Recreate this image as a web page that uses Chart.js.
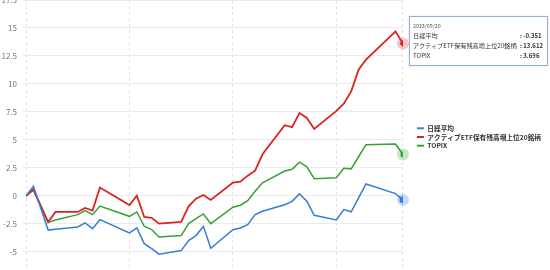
<!DOCTYPE html>
<html>
<head>
<meta charset="utf-8">
<script src="https://cdn.jsdelivr.net/npm/chart.js@4"></script>
<style>
html,body{margin:0;padding:0;width:550px;height:270px;overflow:hidden;background:#fff;}
#wrap{position:absolute;left:0;top:-20px;width:550px;height:304px;}
#tip{position:absolute;left:409px;top:16px;width:139px;height:50px;box-sizing:border-box;border:1px solid #8fb0dc;background:#fff;
 font-family:"Noto Sans CJK JP","Noto Sans",sans-serif;color:#333;padding:4px 0 0 3px;box-shadow:0 0 2px rgba(120,150,200,0.3);}
#tip .row{position:relative;height:10px;line-height:10px;font-size:6.2px;white-space:nowrap;}
#tip .title{color:#555;font-size:5.3px;}
#tip .val{position:absolute;left:107px;top:0;font-weight:bold;font-size:6px;}
</style>
</head>
<body>
<div id="wrap"><canvas id="c"></canvas></div>
<div id="tip"></div>
<script>
// ---- data ----
const dates = ['2023/07/31','2023/08/01','2023/08/03','2023/08/04','2023/08/07','2023/08/08','2023/08/09','2023/08/10',
  '2023/08/14','2023/08/15','2023/08/16','2023/08/17','2023/08/18',
  '2023/08/21','2023/08/22','2023/08/23','2023/08/24','2023/08/25',
  '2023/08/28','2023/08/29','2023/08/30','2023/08/31','2023/09/01',
  '2023/09/04','2023/09/05','2023/09/06','2023/09/07','2023/09/08',
  '2023/09/11','2023/09/12','2023/09/13','2023/09/14','2023/09/15',
  '2023/09/19','2023/09/20'];
const seriesNames = ['日経平均','アクティブETF保有残高増上位20銘柄','TOPIX'];
const nikkei = [0,0.86,-3.05,-2.98,-2.77,-2.41,-2.92,-2.12,
  -3.3,-2.86,-4.26,-4.7,-5.2,
  -4.88,-3.99,-3.54,-2.71,-4.67,
  -3.01,-2.86,-2.56,-1.67,-1.37,
  -0.78,-0.48,0.18,-0.48,-1.73,
  -2.15,-1.22,-1.42,-0.18,1.07,
  0.21,-0.351];
const activeEtf = [0,0.55,-2.33,-1.43,-1.43,-1.07,-1.31,0.75,
  -0.82,0.03,-1.88,-1.96,-2.47,
  -2.32,-0.93,-0.24,0.08,-0.36,
  1.2,1.27,1.81,2.26,3.72,
  6.32,6.15,7.41,6.96,5.98,
  7.6,8.24,9.34,11.28,12.17,
  14.7,13.612];
const topix = [0,0.62,-2.36,-2.15,-1.67,-1.31,-1.67,-0.9,
  -1.82,-1.43,-2.71,-3.0,-3.66,
  -3.54,-2.47,-2.03,-1.61,-2.47,
  -1.01,-0.83,-0.42,0.41,1.18,
  2.23,2.38,3.02,2.6,1.54,
  1.63,2.47,2.42,3.5,4.58,
  4.64,3.696];
const yTickValues = [-5,-2.5,0,2.5,5,7.5,10,12.5,15,17.5];
const xGridDates = ['2023/07/31','2023/08/14','2023/08/28','2023/09/11','2023/09/20'];

// ---- helpers ----
const DAY = 86400000;
const toUTC = s => { const [y,m,d] = s.split('/').map(Number); return Date.UTC(y,m-1,d); };
const t0 = toUTC(dates[0]);
const dayOf = s => Math.round((toUTC(s) - t0) / DAY);
const xs = dates.map(dayOf);
const pts = arr => arr.map((v,i) => ({x: xs[i], y: v}));
const lastIdx = dates.length - 1;

const colors = ['#347ed6', '#dc2222', '#36a036'];
const halos = ['rgba(52,126,214,0.28)', 'rgba(220,34,34,0.25)', 'rgba(54,160,54,0.28)'];
const styles = ['circle', 'rectRot', 'rect'];
const widths = [1.5, 1.8, 1.5];
const values = [nikkei, activeEtf, topix];

const datasets = values.map((arr, k) => ({
  label: seriesNames[k],
  data: pts(arr),
  borderColor: colors[k],
  backgroundColor: colors[k],
  borderWidth: widths[k],
  tension: 0,
  pointStyle: styles[k],
  pointRadius: ctx => ctx.dataIndex === lastIdx ? (styles[k]==='rect' ? 3.2 : 3.5) : 0,
  pointBorderWidth: 0,
  pointHoverRadius: 0,
  haloColor: halos[k]
}));

const haloPlugin = {
  id: 'halo',
  beforeDatasetsDraw(chart) {
    const ctx = chart.ctx;
    chart.data.datasets.forEach((ds, i) => {
      const meta = chart.getDatasetMeta(i);
      const p = meta.data[meta.data.length - 1];
      ctx.save();
      ctx.fillStyle = ds.haloColor;
      ctx.beginPath();
      ctx.arc(p.x, p.y, 6, 0, Math.PI * 2);
      ctx.fill();
      ctx.restore();
    });
  }
};

const FONT = '"Noto Sans CJK JP","Noto Sans",sans-serif';

new Chart(document.getElementById('c'), {
  type: 'line',
  data: { datasets },
  options: {
    responsive: true,
    maintainAspectRatio: false,
    animation: false,
    events: [],
    layout: { padding: { top: 20, bottom: 10, left: 0, right: -1 } },
    plugins: {
      tooltip: { enabled: false },
      legend: {
        position: 'right',
        align: 'center',
        maxWidth: 220,
        labels: {
          boxWidth: 7,
          boxHeight: 2,
          padding: 2,
          color: '#333',
          font: { family: FONT, size: 6.7, weight: 'bold' },
          generateLabels: chart => chart.data.datasets.map((ds, i) => ({
            text: ds.label, fillStyle: ds.borderColor, strokeStyle: ds.borderColor,
            lineWidth: 0, hidden: false, datasetIndex: i, fontColor: '#333'
          }))
        }
      }
    },
    scales: {
      x: {
        type: 'linear',
        min: 0,
        max: xs[lastIdx],
        afterBuildTicks: s => { s.ticks = xGridDates.map(d => ({ value: dayOf(d) })); },
        ticks: { display: false },
        grid: { color: '#e2e2e2', lineWidth: 1, drawTicks: false },
        border: { display: false, dash: [3, 3] }
      },
      y: {
        type: 'linear',
        min: -6.9,
        max: 17.5,
        afterBuildTicks: s => { s.ticks = yTickValues.map(v => ({ value: v })); },
        afterFit: s => { s.width = 26; },
        ticks: { color: '#777', padding: 6, font: { family: FONT, size: 8 } },
        grid: { color: '#ebebeb', lineWidth: 1, drawTicks: true, tickLength: 3 },
        border: { display: false }
      },
      y2: {
        type: 'linear',
        position: 'right',
        display: true,
        afterFit: s => { s.width = 12; },
        ticks: { display: false },
        grid: { display: false, drawTicks: false },
        border: { display: false }
      }
    }
  },
  plugins: [haloPlugin]
});

// ---- tooltip-like info box built from the last data values ----
const tip = document.getElementById('tip');
const title = document.createElement('div');
title.className = 'row title';
title.textContent = dates[lastIdx];
tip.appendChild(title);
values.forEach((arr, k) => {
  const row = document.createElement('div');
  row.className = 'row';
  const lab = document.createElement('span');
  lab.textContent = seriesNames[k];
  const val = document.createElement('span');
  val.className = 'val';
  val.textContent = ': ' + arr[lastIdx].toFixed(3);
  row.appendChild(lab); row.appendChild(val);
  tip.appendChild(row);
});
</script>
</body>
</html>
